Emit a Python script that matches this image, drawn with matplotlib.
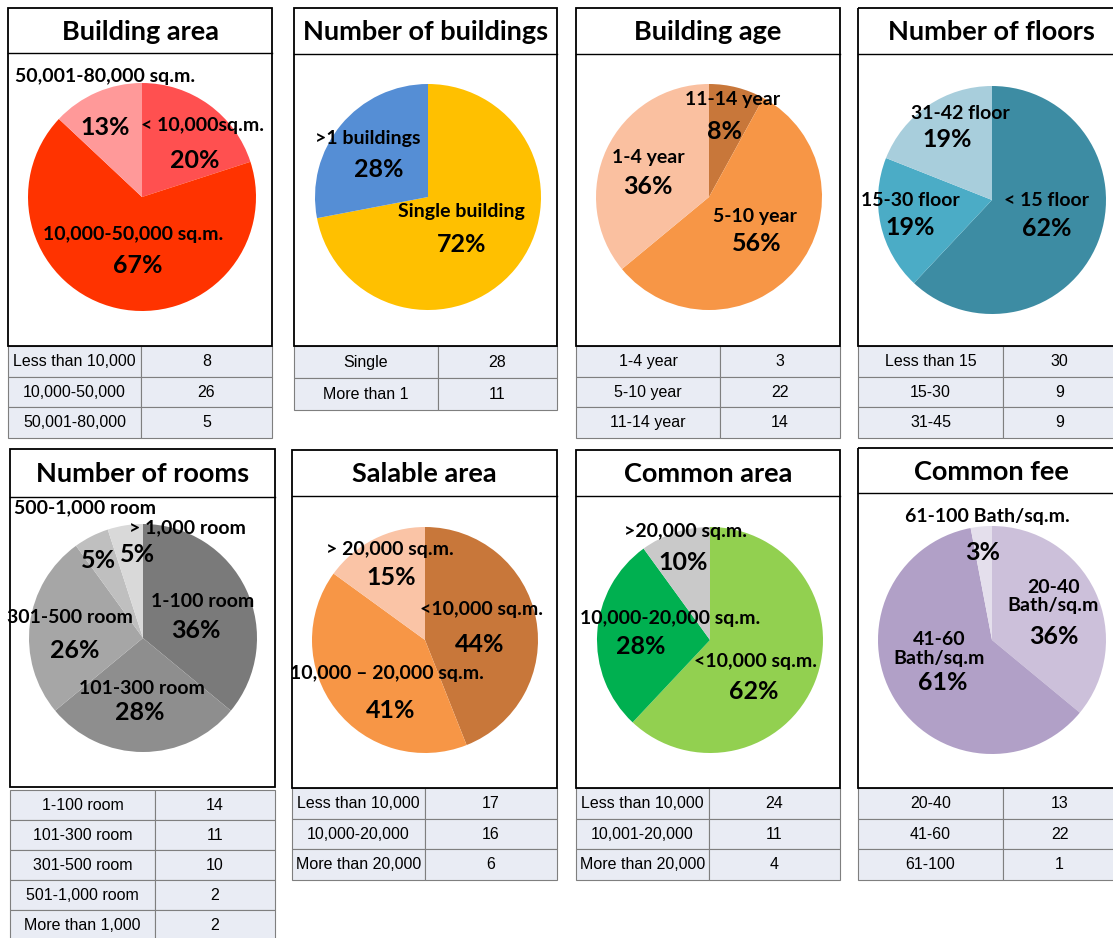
import matplotlib as mpl
import matplotlib.pyplot as plt
from matplotlib.patches import Rectangle
mpl.use('agg')

plt.rcParams['font.family'] = ['Lato', 'DejaVu Sans']

##--##--##--  data  --##--##--##
area_names = ['< 10,000sq.m.', '10,000-50,000 sq.m.', '50,001-80,000 sq.m.']
area_pct = [20, 67, 13]
area_rows = ['Less than 10,000', '10,000-50,000', '50,001-80,000']
area_count = [8, 26, 5]

bldg_names = ['Single building', '>1 buildings']
bldg_pct = [72, 28]
bldg_rows = ['Single', 'More than 1']
bldg_count = [28, 11]

age_names = ['11-14 year', '5-10 year', '1-4 year']
age_pct = [8, 56, 36]
age_rows = ['1-4 year', '5-10 year', '11-14 year']
age_count = [3, 22, 14]

floor_names = ['< 15 floor', '15-30 floor', '31-42 floor']
floor_pct = [62, 19, 19]
floor_rows = ['Less than 15', '15-30', '31-45']
floor_count = [30, 9, 9]

room_names = ['1-100 room', '101-300 room', '301-500 room', '500-1,000 room', '> 1,000 room']
room_pct = [36, 28, 26, 5, 5]
room_rows = ['1-100 room', '101-300 room', '301-500 room', '501-1,000 room', 'More than 1,000']
room_count = [14, 11, 10, 2, 2]

sale_names = ['<10,000 sq.m.', '10,000 \u2013 20,000 sq.m.', '> 20,000 sq.m.']
sale_pct = [44, 41, 15]
sale_rows = ['Less than 10,000', '10,000-20,000', 'More than 20,000']
sale_count = [17, 16, 6]

common_names = ['<10,000 sq.m.', '10,000-20,000 sq.m.', '>20,000 sq.m.']
common_pct = [62, 28, 10]
common_rows = ['Less than 10,000', '10,001-20,000', 'More than 20,000']
common_count = [24, 11, 4]

fee_names = ['20-40\nBath/sq.m', '41-60\nBath/sq.m', '61-100 Bath/sq.m.']
fee_pct = [36, 61, 3]
fee_rows = ['20-40', '41-60', '61-100']
fee_count = [13, 22, 1]


##--##--##--  layout (pixels)  --##--##--##
W, H = 1113, 938

panels = [
    dict(title='Building area', names=area_names, pct=area_pct, rows=area_rows, count=area_count,
         colors=['#FF5050', '#FF3300', '#FF9999'],
         box=(8, 8, 272, 346, 53), tab=(8, 346, 272, 438, 141), pie=(142, 197, 114),
         name_xy=[(0.53, 0.63), (-0.08, -0.33), (-0.32, 1.06)],
         pct_xy=[(0.46, 0.32), (-0.04, -0.60), (-0.32, 0.61)]),
    dict(title='Number of buildings', names=bldg_names, pct=bldg_pct, rows=bldg_rows, count=bldg_count,
         colors=['#FFC000', '#558ED5'],
         box=(294, 8, 557, 346, 54), tab=(294, 346, 557, 410, 438), pie=(428, 197, 113),
         name_xy=[(0.30, -0.13), (-0.53, 0.52)],
         pct_xy=[(0.30, -0.42), (-0.44, 0.24)]),
    dict(title='Building age', names=age_names, pct=age_pct, rows=age_rows, count=age_count,
         colors=['#C8773A', '#F79646', '#FAC0A0'],
         box=(576, 8, 840, 346, 54), tab=(576, 346, 840, 438, 720), pie=(709, 197, 113),
         name_xy=[(0.21, 0.86), (0.41, -0.17), (-0.54, 0.35)],
         pct_xy=[(0.14, 0.58), (0.42, -0.41), (-0.54, 0.09)]),
    dict(title='Number of floors', names=floor_names, pct=floor_pct, rows=floor_rows, count=floor_count,
         colors=['#3D8CA3', '#4BACC6', '#A8CEDC'],
         box=(858, 8, 1125, 346, 54), tab=(858, 346, 1116, 438, 1003), pie=(992, 200, 114),
         name_xy=[(0.48, 0.0), (-0.72, 0.0), (-0.28, 0.76)],
         pct_xy=[(0.48, -0.25), (-0.72, -0.24), (-0.39, 0.53)]),
    dict(title='Number of rooms', names=room_names, pct=room_pct, rows=room_rows, count=room_count,
         colors=['#7A7A7A', '#8E8E8E', '#A6A6A6', '#BFBFBF', '#D9D9D9'],
         box=(10, 449, 275, 787, 497), tab=(10, 790, 275, 940, 155), pie=(143, 638, 114),
         name_xy=[(0.52, 0.32), (-0.01, -0.44), (-0.64, 0.18), (-0.51, 1.14), (0.39, 0.97)],
         pct_xy=[(0.46, 0.07), (-0.03, -0.65), (-0.60, -0.11), (-0.39, 0.68), (-0.05, 0.73)]),
    dict(title='Salable area', names=sale_names, pct=sale_pct, rows=sale_rows, count=sale_count,
         colors=['#C8773A', '#F79646', '#FAC4A6'],
         box=(292, 450, 557, 788, 496), tab=(292, 788, 557, 880, 425), pie=(425, 640, 113),
         name_xy=[(0.50, 0.27), (-0.34, -0.30), (-0.31, 0.80)],
         pct_xy=[(0.48, -0.04), (-0.30, -0.62), (-0.30, 0.55)]),
    dict(title='Common area', names=common_names, pct=common_pct, rows=common_rows, count=common_count,
         colors=['#92D050', '#00B050', '#C9C9C9'],
         box=(576, 450, 840, 788, 496), tab=(576, 788, 840, 880, 709), pie=(710, 640, 113),
         name_xy=[(0.40, -0.19), (-0.35, 0.19), (-0.22, 0.96)],
         pct_xy=[(0.39, -0.46), (-0.61, -0.06), (-0.24, 0.69)]),
    dict(title='Common fee', names=fee_names, pct=fee_pct, rows=fee_rows, count=fee_count,
         colors=['#CCC0DA', '#B1A0C7', '#E4DFEC'],
         box=(858, 448, 1125, 788, 493), tab=(858, 788, 1116, 880, 1003), pie=(992, 640, 114),
         name_xy=[(0.54, 0.38), (-0.46, -0.08), (-0.04, 1.08)],
         pct_xy=[(0.54, 0.03), (-0.43, -0.37), (-0.08, 0.77)]),
]


def fig_rect(x0, y0, x1, y1):
    return [x0 / W, 1 - y1 / H, (x1 - x0) / W, (y1 - y0) / H]


##--##--##--  create figure  --##--##--##
fig = plt.figure(figsize=(W / 100, H / 100), dpi=100)
fig.patch.set_facecolor('white')

bg = fig.add_axes([0, 0, 1, 1])
bg.set_xlim(0, W)
bg.set_ylim(H, 0)
bg.axis('off')

for p in panels:
    # frame + title strip
    x0, y0, x1, y1, yt = p['box']
    bg.add_patch(Rectangle((x0, y0), x1 - x0, y1 - y0, fill=False, ec='black', lw=1.3))
    bg.plot([x0, x1], [yt, yt], color='black', lw=1.0)
    bg.text((x0 + x1) / 2, (y0 + yt) / 2 + 1, p['title'], ha='center', va='center',
            fontsize=19.5, fontweight='bold')

    # small count table
    tx0, ty0, tx1, ty1, tsplit = p['tab']
    cells = [[r, str(c)] for r, c in zip(p['rows'], p['count'])]
    tab = bg.table(cellText=cells, cellLoc='center',
                   colWidths=[tsplit - tx0, tx1 - tsplit],
                   bbox=fig_rect(tx0, ty0, tx1, ty1))
    tab.auto_set_font_size(False)
    tab.set_fontsize(11.5)
    for cell in tab.get_celld().values():
        cell.set_facecolor('#E9ECF4')
        cell.set_edgecolor('#7F7F7F')
        cell.set_linewidth(0.8)
        cell.get_text().set_fontfamily('Liberation Sans')

    # pie
    cx, cy, R = p['pie']
    ax = fig.add_axes(fig_rect(cx - R, cy - R, cx + R, cy + R))
    ax.pie(p['pct'], colors=p['colors'], startangle=90, counterclock=False,
           radius=1.0, wedgeprops=dict(linewidth=0))
    ax.set_xlim(-1, 1)
    ax.set_ylim(-1, 1)
    for name, v, (nx, ny), (px, py) in zip(p['names'], p['pct'], p['name_xy'], p['pct_xy']):
        ax.text(nx, ny, name, ha='center', va='center', fontsize=14,
                fontweight='bold', linespacing=1.1)
        ax.text(px, py, f'{v}%', ha='center', va='center', fontsize=18, fontweight='bold')

fig.savefig('out.png', dpi=100)
